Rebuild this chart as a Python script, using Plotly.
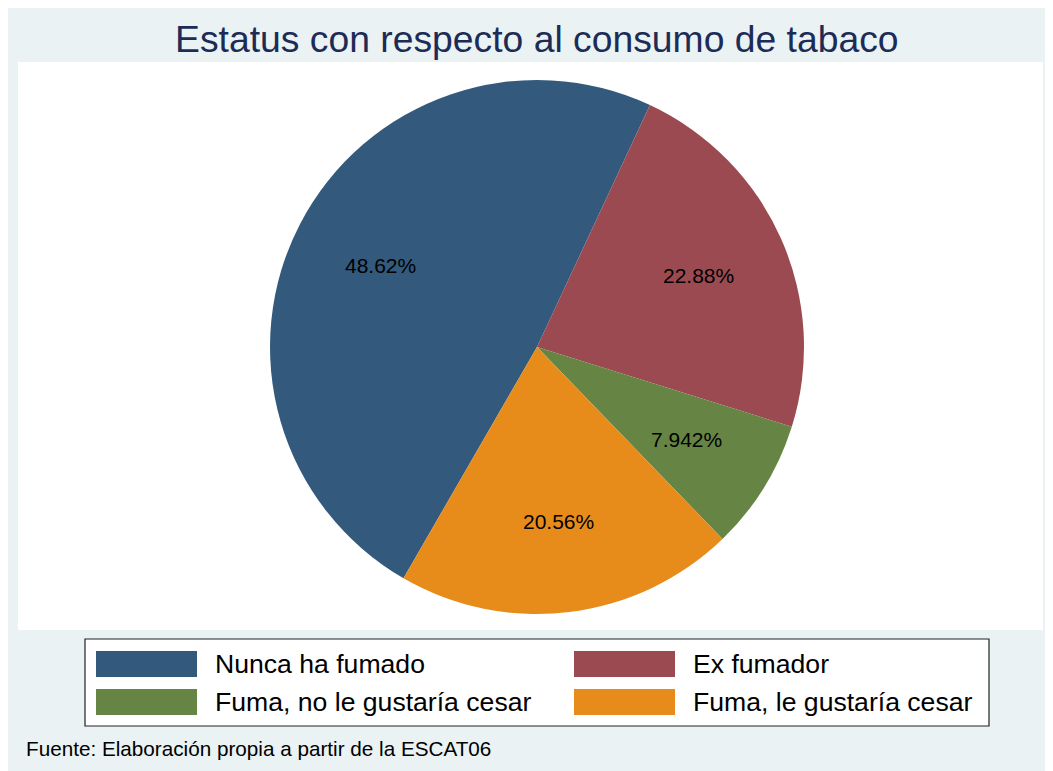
import math
import plotly.graph_objects as go

# ---- data ----
categories = ["Nunca ha fumado", "Ex fumador", "Fuma, no le gustaría cesar", "Fuma, le gustaría cesar"]
percentages = [48.62, 22.88, 7.942, 20.56]
colors = ["#335A7D", "#9A4A50", "#668443", "#E78C1B"]
title_text = "Estatus con respecto al consumo de tabaco"
note_text = "Fuente: Elaboración propia a partir de la ESCAT06"

W, H = 1053, 771
OX, OY = 8, 8  # page offset of the figure
FONT = "Liberation Sans, Arial, sans-serif"

def px(x):
    return (x - OX) / W

def py(y):
    return 1 - (y - OY) / H

labels_text = [f"{v:.4g}%" for v in percentages]

cx, cy, r = 537, 347, 267
ROT = 210
fig = go.Figure(go.Pie(
    labels=categories,
    values=percentages,
    sort=False,
    direction="clockwise",
    rotation=ROT,
    textinfo="none",
    marker=dict(colors=colors, line=dict(width=0)),
    domain=dict(x=[px(cx - r), px(cx + r)], y=[py(cy + r), py(cy - r)]),
    showlegend=False,
    hoverinfo="label+percent",
))

shapes = [
    # plot region
    dict(type="rect", xref="paper", yref="paper", x0=px(18), x1=px(1043), y0=py(630), y1=py(62),
         fillcolor="white", line=dict(width=0), layer="below"),
    # legend box
    dict(type="rect", xref="paper", yref="paper", x0=px(85), x1=px(989), y0=py(726), y1=py(639),
         fillcolor="white", line=dict(color="#222222", width=1.2), layer="below"),
]
annotations = []

# slice labels placed along each slice's mid-angle (Stata style)
total = sum(percentages)
cum = 0.0
rl = 0.66 * r
for v, t in zip(percentages, labels_text):
    mid = math.radians(ROT + (cum + v / 2) / total * 360)
    cum += v
    lx = cx + rl * math.sin(mid)
    ly = cy - rl * math.cos(mid)
    annotations.append(dict(xref="paper", yref="paper", x=px(lx), y=py(ly), text=t,
                            showarrow=False, xanchor="center", yanchor="middle",
                            font=dict(family=FONT, size=21, color="black")))

# custom legend (2 columns, rows in legend order)
col_sw_x = [96, 574]
col_tx_x = [213, 691]
row_y = [(651, 677), (689, 715)]
for i, (lab, col) in enumerate(zip(categories, colors)):
    rr, cc = divmod(i, 2)
    y0, y1 = row_y[rr]
    shapes.append(dict(type="rect", xref="paper", yref="paper",
                       x0=px(col_sw_x[cc]), x1=px(col_sw_x[cc] + 101),
                       y0=py(y1), y1=py(y0), fillcolor=col, line=dict(width=0)))
    annotations.append(dict(xref="paper", yref="paper", x=px(col_tx_x[cc]), y=py((y0 + y1) / 2),
                            text=lab, showarrow=False, xanchor="left", yanchor="middle",
                            font=dict(family=FONT, size=26.6, color="black")))

# title
annotations.append(dict(xref="paper", yref="paper", x=px(537), y=py(39), text=title_text,
                        showarrow=False, xanchor="center", yanchor="middle",
                        font=dict(family=FONT, size=37.3, color="#1C2C57")))
# note
annotations.append(dict(xref="paper", yref="paper", x=px(24), y=py(748), text=note_text,
                        showarrow=False, xanchor="left", yanchor="middle",
                        font=dict(family=FONT, size=20.7, color="black")))

fig.update_layout(
    width=W, height=H,
    margin=dict(l=0, r=0, t=0, b=0),
    paper_bgcolor="#EAF2F3",
    plot_bgcolor="#EAF2F3",
    shapes=shapes,
    annotations=annotations,
)

fig.write_html("out.html")
